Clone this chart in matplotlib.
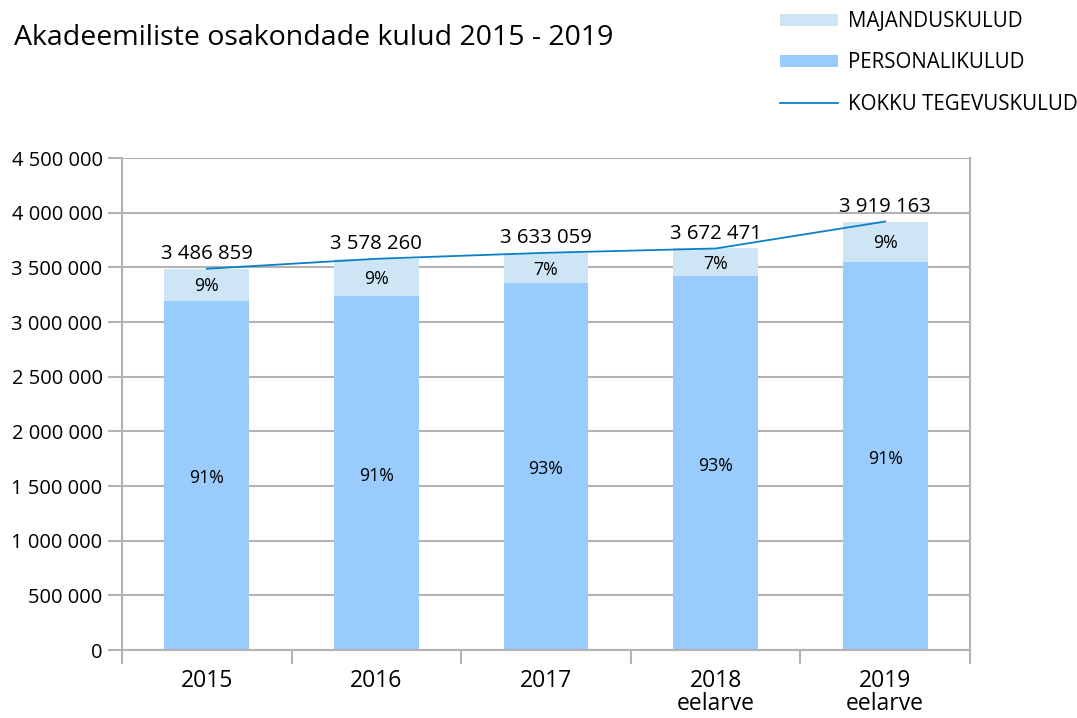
import matplotlib
matplotlib.use("Agg")
import matplotlib.pyplot as plt
from matplotlib.patches import Patch
from matplotlib.lines import Line2D
import numpy as np

plt.rcParams['font.family'] = ['Open Sans', 'DejaVu Sans']

categories = ["2015", "2016", "2017", "2018\neelarve", "2019\neelarve"]
personal = [3195000, 3238000, 3357000, 3421000, 3549000]
totals = [3486859, 3578260, 3633059, 3672471, 3919163]
total_labels = ["3 486 859", "3 578 260", "3 633 059", "3 672 471", "3 919 163"]
pers_pct = ["91%", "91%", "93%", "93%", "91%"]
maj_pct = ["9%", "9%", "7%", "7%", "9%"]
majandus = [t - p for t, p in zip(totals, personal)]
yticks = [0, 500000, 1000000, 1500000, 2000000, 2500000, 3000000, 3500000, 4000000, 4500000]
ytick_labels = ["0", "500 000", "1 000 000", "1 500 000", "2 000 000", "2 500 000",
                "3 000 000", "3 500 000", "4 000 000", "4 500 000"]

c_maj = "#cde5f4"
c_pers = "#99cbfd"
c_line = "#0b80c8"
grid_c = "#b3b3b3"

fig = plt.figure(figsize=(10.77, 7.18), dpi=100)
ax = fig.add_axes([122/1077, 1-650/718, (970-122)/1077, (650-158)/718])

x = np.arange(len(categories))
ax.bar(x, personal, width=0.5, color=c_pers, zorder=2)
ax.bar(x, majandus, width=0.5, bottom=personal, color=c_maj, zorder=2)
ax.plot(x, totals, color=c_line, lw=1.3, zorder=3)

for i in range(len(x)):
    ax.text(x[i], totals[i] + 40000, total_labels[i], ha="center", va="bottom", fontsize=14.7)
    ax.text(x[i], personal[i] / 2 - 25000, pers_pct[i], ha="center", va="center", fontsize=12.8)
    ax.text(x[i], personal[i] + majandus[i] / 2 - 15000, maj_pct[i], ha="center", va="center", fontsize=12.8)

ax.set_xlim(-0.5, len(x) - 0.5)
ax.set_ylim(0, 4500000)
ax.set_yticks(yticks)
ax.set_yticklabels(ytick_labels, fontsize=14.5)
ax.set_xticks(x)
ax.set_xticklabels(categories, fontsize=16.5, linespacing=0.9)
ax.set_xticks(np.arange(-0.5, len(x)), minor=True)
ax.tick_params(axis="x", which="major", length=0, pad=14)
ax.tick_params(axis="x", which="minor", length=10, color=grid_c, width=1.5)
ax.tick_params(axis="y", length=10, color=grid_c, width=1.5, pad=4)
ax.yaxis.grid(True, color=grid_c, lw=1.5, zorder=0)
ax.set_axisbelow(True)
for s in ["left", "bottom", "right"]:
    ax.spines[s].set_color(grid_c)
    ax.spines[s].set_linewidth(1.5)
ax.spines["top"].set_visible(False)

fig.text(14/1077, 1-38/718, "Akadeemiliste osakondade kulud 2015 - 2019", fontsize=20.5, va="center", ha="left")

handles = [Patch(facecolor=c_maj, edgecolor="none"),
           Patch(facecolor=c_pers, edgecolor="none"),
           Line2D([0], [0], color=c_line, lw=1.3)]
labels = ["MAJANDUSKULUD", "PERSONALIKULUD", "KOKKU TEGEVUSKULUD"]
leg = fig.legend(handles, labels, loc="upper left", bbox_to_anchor=(772/1077, 1-3/718),
                 frameon=False, fontsize=14.8, handlelength=2.83, handleheight=0.54,
                 labelspacing=0.98, handletextpad=0.49, borderaxespad=0)

fig.savefig("out.png", dpi=100)
